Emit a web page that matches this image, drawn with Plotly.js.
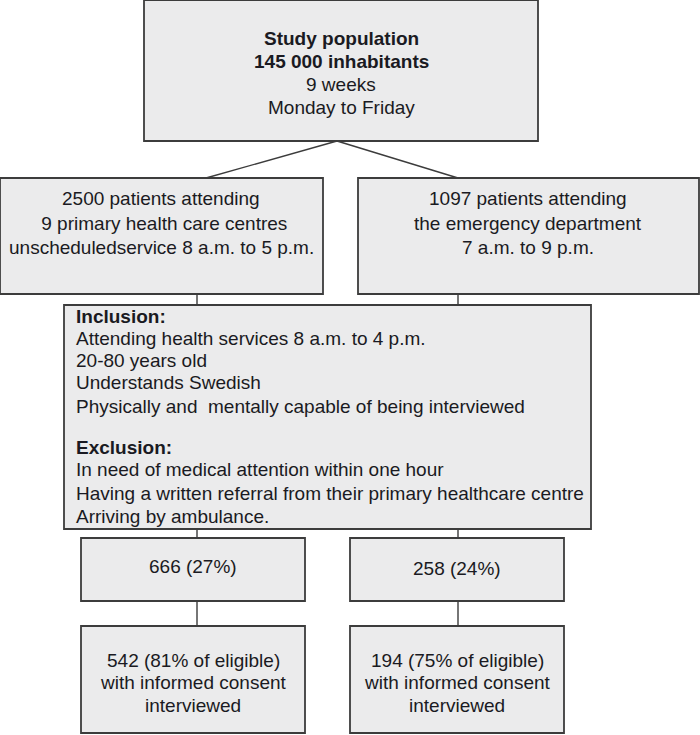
<!DOCTYPE html>
<html>
<head>
<meta charset="utf-8">
<script src="https://cdn.plot.ly/plotly-3.0.1.min.js"></script>
<style>html,body{margin:0;padding:0;background:#fff;}#chart{width:700px;height:735px;}</style>
</head>
<body>
<div id="chart"></div>
<script>
// ---- data (texts of the flow chart) ----
const topLines = ["<b>Study population</b>", "<b>145 000 inhabitants</b>", "9 weeks", "Monday to Friday"];
const pcLines = ["2500 patients attending", " 9 primary health care centres", "unscheduledservice 8 a.m. to 5 p.m."];
const edLines = ["1097 patients attending", "the emergency department", "7 a.m. to 9 p.m."];
const inclusionHead = "Inclusion:";
const inclusionItems = ["Attending health services 8 a.m. to 4 p.m.", "20-80 years old", "Understands Swedish", "Physically and  mentally capable of being interviewed"];
const exclusionHead = "Exclusion:";
const exclusionItems = ["In need of medical attention within one hour", "Having a written referral from their primary healthcare centre", "Arriving by ambulance."];
const eligibleCounts = [666, 258];
const eligiblePct = [27, 24];
const interviewedCounts = [542, 194];
const interviewedPct = [81, 75];

// ---- layout geometry ----
const fill = "#ebebec", edge = "#3c3c3c", txt = "#1a1a22";
const boxes = [
  [144, 0, 538, 141],   // top
  [0, 178, 323, 294],   // primary care
  [358, 178, 699, 294], // ED
  [64, 305, 591, 529],  // criteria
  [81, 538, 305, 601],  // eligible PC
  [350, 538, 564, 601], // eligible ED
  [81, 626, 305, 733],  // interviewed PC
  [350, 626, 564, 733]  // interviewed ED
];
const shapes = boxes.map(b => ({type: "rect", xref: "x", yref: "y", x0: b[0], y0: b[1], x1: b[2], y1: b[3],
  fillcolor: fill, line: {color: edge, width: 1.8}, layer: "below"}));
const lines = [
  [337, 141, 206, 178], [337, 141, 458, 178],
  [197, 294, 197, 305], [458, 294, 458, 305],
  [197, 529, 197, 538], [458, 529, 458, 538],
  [197, 601, 197, 626], [458, 601, 458, 626]
];
lines.forEach(l => shapes.push({type: "line", xref: "x", yref: "y", x0: l[0], y0: l[1], x1: l[2], y1: l[3],
  line: {color: edge, width: 1.4}, layer: "below"}));

const FS = 19;
const font = {family: "Liberation Sans, Arial, sans-serif", size: FS, color: txt};
const ann = [];
function addCentered(lines, cx, ys) {
  lines.forEach((t, i) => ann.push({x: cx, y: ys[i], xref: "x", yref: "y", text: t, showarrow: false,
    xanchor: "center", yanchor: "middle", font: font}));
}
function addLeft(t, x, y) {
  ann.push({x: x, y: y, xref: "x", yref: "y", text: t, showarrow: false, xanchor: "left", yanchor: "middle", font: font});
}
addCentered(topLines, 341, [38, 61, 84, 107]);
addCentered(pcLines, 161, [198, 223, 247]);
addCentered(edLines, 528, [198, 223, 247]);
addLeft("<b>" + inclusionHead + "</b>", 74, 316);
const incY = [338, 360, 382, 406];
inclusionItems.forEach((t, i) => addLeft(t, 74, incY[i]));
addLeft("<b>" + exclusionHead + "</b>", 74, 447);
const excY = [469, 493, 516];
exclusionItems.forEach((t, i) => addLeft(t, 74, excY[i]));
const colX = [193, 457];
eligibleCounts.forEach((n, i) => addCentered([n + " (" + eligiblePct[i] + "%)"], colX[i], [i === 0 ? 566 : 568]));
interviewedCounts.forEach((n, i) => addCentered([n + " (" + interviewedPct[i] + "% of eligible)", "with informed consent", "interviewed"], colX[i], [660, 682, 705]));

Plotly.newPlot("chart", [], {
  width: 700, height: 735,
  margin: {l: 0, r: 0, t: 0, b: 0},
  paper_bgcolor: "#ffffff", plot_bgcolor: "#ffffff",
  xaxis: {range: [0, 700], visible: false, fixedrange: true},
  yaxis: {range: [735, 0], visible: false, fixedrange: true},
  shapes: shapes,
  annotations: ann,
  showlegend: false
}, {displayModeBar: false, staticPlot: true});
</script>
</body>
</html>
